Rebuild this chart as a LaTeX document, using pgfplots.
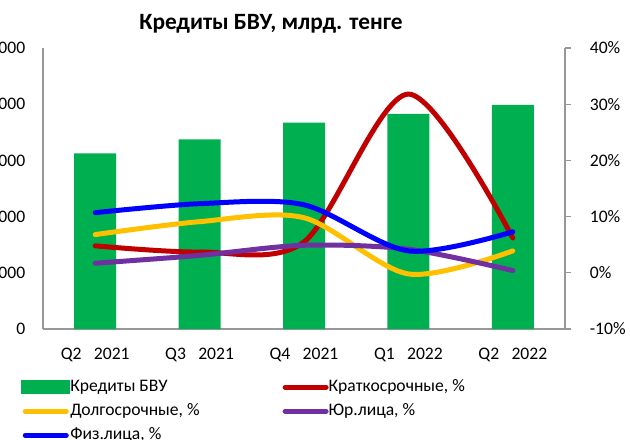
\documentclass[border=0pt]{standalone}
\usepackage{fontspec}
\setmainfont{Carlito}
\usepackage{pgfplots}
\pgfplotsset{compat=1.18}
\definecolor{cgreen}{HTML}{00B050}
\definecolor{cred}{HTML}{C00000}
\definecolor{cyellow}{HTML}{FFC000}
\definecolor{cpurple}{HTML}{7030A0}
\definecolor{cblue}{HTML}{0000FF}
\definecolor{axgray}{HTML}{979797}
\newcommand{\qs}{\hspace{0.7em}}
\begin{document}
\begin{tikzpicture}
\begin{axis}[
  at={(0,0)}, anchor=south west,
  scale only axis, width=391.5pt, height=210.75pt,
  xmin=-0.5, xmax=4.5, ymin=0, ymax=25000,
  axis x line*=bottom, axis y line*=left,
  axis line style={draw=axgray, line width=1pt},
  major tick length=0pt,
  scaled y ticks=false,
  xtick={0,1,2,3,4},
  xticklabels={Q2\qs2021,Q3\qs2021,Q4\qs2021,Q1\qs2022,Q2\qs2022},
  ytick={0,5000,10000,15000,20000,25000},
  yticklabels={0,5 000,10 000,15 000,20 000,25 000},
  tick label style={font=\fontsize{13.2}{15}\selectfont},
  xticklabel style={yshift=-10.6pt},
  yticklabel style={xshift=-9.8pt},
  ybar, bar width=31.5pt,
  title={Кредиты БВУ, млрд. тенге},
  title style={at={(0.4368,1)}, anchor=center, yshift=12.5pt, font=\bfseries\fontsize{17.5}{20}\selectfont},
]
\addplot[fill=cgreen, draw=none] coordinates {(0,15630) (1,16880) (2,18350) (3,19130) (4,19930)};
\end{axis}
\begin{axis}[
  at={(0,0)}, anchor=south west,
  scale only axis, width=391.5pt, height=210.75pt,
  xmin=-0.5, xmax=4.5, ymin=-10, ymax=40,
  axis x line=none, axis y line*=right,
  axis line style={draw=axgray, line width=1pt},
  ytick={-10,0,10,20,30,40},
  yticklabel={\pgfmathprintnumber{\tick}\%},
  /pgf/number format/assume math mode=true,
  tick align=outside, major tick length=4.5pt,
  major tick style={draw=axgray, line width=1pt},
  tick label style={font=\fontsize{13.2}{15}\selectfont},
  yticklabel style={xshift=10.6pt},
  legend columns=2, legend cell align=left,
  legend style={at={(0,0)}, anchor=north west, xshift=-16.5pt, yshift=-36.5pt,
    draw=none, fill=none, inner sep=0pt, font=\fontsize{13.2}{15}\selectfont,
    nodes={inner ysep=1pt, inner xsep=0pt, text height=9pt, text depth=3pt}, row sep=4pt,
    /tikz/column 1/.style={column sep=0pt},
    /tikz/column 2/.style={column sep=62.25pt},
    /tikz/column 3/.style={column sep=0pt}},
  every axis plot/.append style={line width=3.75pt, line cap=round, smooth},
  legend image code/.code={\draw[#1, line width=3.75pt, line cap=round] (1.875pt,0pt) -- (32.625pt,0pt);},
]
\addlegendimage{legend image code/.code={\fill[cgreen] (0.75pt,-3.4pt) rectangle (33.75pt,3.4pt);}}
\addlegendentry{Кредиты БВУ}
\addplot[cred] coordinates {(0,4.8) (1,3.7) (2,5.5) (3,31.8) (4,6.2)};
\addlegendentry{Краткосрочные, \%}
\addplot[cyellow] coordinates {(0,6.8) (1,9.1) (2,9.8) (3,-0.2) (4,3.9)};
\addlegendentry{Долгосрочные, \%}
\addplot[cpurple] coordinates {(0,1.7) (1,3.1) (2,4.9) (3,4.2) (4,0.4)};
\addlegendentry{Юр.лица, \%}
\addplot[cblue] coordinates {(0,10.7) (1,12.3) (2,12.1) (3,3.9) (4,7.3)};
\addlegendentry{Физ.лица, \%}
\end{axis}
\pgfresetboundingbox
\path[use as bounding box] (-32.25pt,-82.5pt) rectangle (440.25pt,246.75pt);
\end{tikzpicture}
\end{document}
